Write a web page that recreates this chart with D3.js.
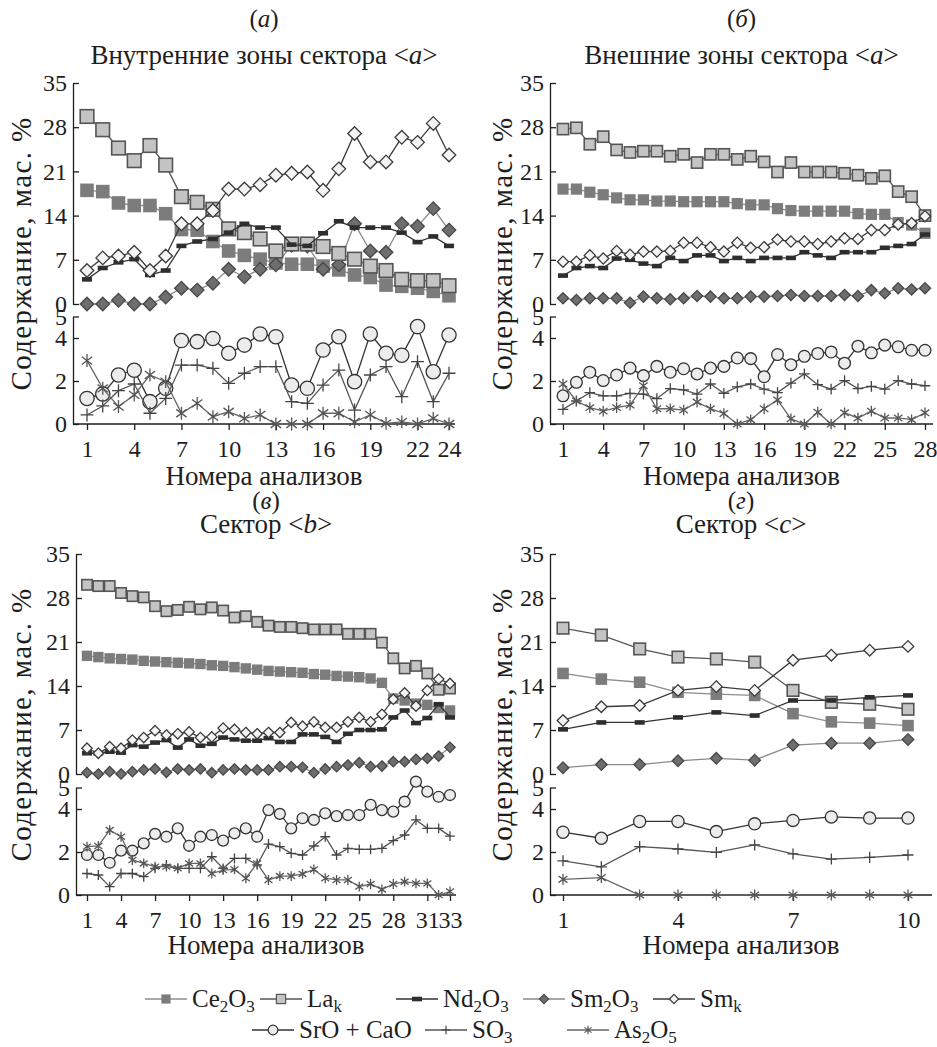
<!DOCTYPE html>
<html>
<head>
<meta charset="utf-8">
<script src="https://cdn.jsdelivr.net/npm/d3@7"></script>
<style>
	body { margin: 0; background: #fff; }
	svg { display: block; }
	text { font-family: "Liberation Serif", "DejaVu Serif", "Times New Roman", serif; }
</style>
</head>
<body>
<div id="chart"></div>
<script>
// axis ticks
var upperTicks = [0, 7, 14, 21, 28, 35]
var lowerTicks = [0, 2, 4, 5]
var ticksA = [1, 4, 7, 10, 13, 16, 19, 22, 24]
var ticksB = [1, 4, 7, 10, 13, 16, 19, 22, 25, 28]
var ticksC = [1, 4, 7, 10, 13, 16, 19, 22, 25, 28, 31, 33]
var ticksD = [1, 4, 7, 10]

// (а) inner zones of sector <a>
var aCe = [18.0, 17.8, 16.0, 15.6, 15.6, 14.3, 11.8, 11.7, 9.9, 8.4, 7.7, 7.1, 6.5, 6.3, 6.3, 6.0, 5.4, 4.6, 4.2, 3.0, 2.8, 2.5, 2.0, 1.3]
var aLa = [29.7, 27.6, 24.7, 22.7, 25.1, 22.0, 17.0, 16.1, 15.0, 11.9, 11.3, 10.3, 8.4, 9.5, 9.5, 9.1, 8.0, 7.1, 6.0, 5.3, 3.9, 3.7, 3.7, 2.9]
var aNd = [3.9, 5.7, 6.6, 7.1, 4.6, 5.3, 9.2, 9.9, 10.3, 11.3, 12.7, 12.1, 12.1, 9.4, 9.2, 11.2, 13.1, 12.1, 12.1, 12.1, 11.3, 9.8, 10.7, 9.2]
var aSm = [0.0, 0.0, 0.6, 0.0, 0.0, 1.1, 2.5, 2.2, 3.3, 5.5, 4.3, 5.5, 6.2, 9.3, 9.2, 5.5, 6.2, 12.7, 8.4, 8.2, 12.7, 12.3, 15.1, 11.7]
var aSmk = [5.3, 7.3, 7.6, 8.2, 5.3, 7.6, 12.7, 12.7, 14.8, 18.2, 18.2, 18.9, 20.4, 20.7, 20.9, 18.0, 21.4, 27.0, 22.5, 22.5, 26.4, 25.6, 28.6, 23.6]
var aSr = [1.19, 1.4, 2.28, 2.5, 1.04, 1.66, 3.88, 3.83, 3.98, 3.29, 3.67, 4.19, 4.06, 1.81, 1.66, 3.44, 4.06, 1.97, 4.19, 3.29, 3.2, 4.53, 2.43, 4.14]
var aSO3 = [0.42, 0.84, 1.55, 1.86, 0.5, 1.19, 2.74, 2.74, 2.59, 1.89, 2.36, 2.67, 2.67, 1.04, 0.96, 1.81, 2.51, 0.65, 2.28, 2.67, 1.27, 2.9, 1.04, 2.36]
var aAs = [2.95, 1.66, 0.81, 1.35, 2.28, 1.97, 0.5, 0.96, 0.34, 0.57, 0.26, 0.42, 0, 0, 0, 0.5, 0.5, 0.1, 0.42, 0.03, 0.1, 0, 0.26, 0]

// (б) outer zones of sector <a>
var bCe = [18.2, 18.2, 17.7, 17.3, 16.8, 16.5, 16.5, 16.3, 16.3, 16.2, 16.2, 16.2, 16.2, 15.9, 15.7, 15.7, 15.1, 14.8, 14.7, 14.7, 14.7, 14.7, 14.3, 14.2, 14.2, 12.9, 12.5, 11.2]
var bLa = [27.7, 27.9, 25.3, 26.5, 24.4, 24.0, 24.2, 24.2, 23.4, 23.7, 22.4, 23.7, 23.7, 22.9, 23.4, 22.5, 20.9, 22.4, 20.9, 20.9, 20.9, 20.7, 20.4, 19.9, 20.3, 17.8, 17.0, 14.0]
var bNd = [4.5, 5.7, 6.0, 5.7, 7.2, 7.0, 6.4, 6.0, 7.3, 6.8, 7.7, 7.7, 6.8, 7.3, 6.8, 7.3, 7.3, 7.3, 8.2, 7.7, 7.3, 8.2, 8.2, 8.2, 8.9, 9.2, 9.5, 11.0]
var bSm = [0.9, 0.64, 0.9, 0.9, 0.9, 0.2, 1.17, 0.9, 0.74, 0.9, 1.27, 1.17, 0.9, 0.9, 1.17, 1.17, 1.27, 1.43, 1.27, 1.27, 1.27, 1.43, 1.27, 2.2, 1.7, 2.5, 2.3, 2.5]
var bSmk = [6.7, 6.7, 7.7, 7.2, 8.4, 7.8, 8.3, 8.3, 8.4, 9.7, 9.7, 9.0, 8.3, 9.7, 8.9, 9.0, 10.2, 9.9, 9.9, 9.5, 9.9, 10.4, 10.3, 11.7, 11.7, 12.6, 12.8, 13.9]
var bSr = [1.31, 1.94, 2.41, 2.02, 2.28, 2.6, 2.25, 2.68, 2.41, 2.57, 2.33, 2.6, 2.68, 3.07, 3.04, 2.2, 3.23, 2.76, 3.15, 3.28, 3.35, 2.83, 3.62, 3.31, 3.67, 3.59, 3.43, 3.43]
var bSO3 = [0.68, 1.07, 1.46, 1.31, 1.31, 1.42, 1.39, 1.18, 1.65, 1.59, 1.39, 1.86, 1.43, 1.73, 1.86, 1.62, 1.46, 1.9, 2.33, 1.83, 1.62, 2.02, 1.65, 1.75, 1.62, 2.02, 1.86, 1.78]
var bAs = [1.86, 1.07, 0.76, 0.6, 0.76, 0.88, 1.78, 0.71, 0.71, 0.65, 1.02, 0.71, 0.49, 0, 0.2, 0.71, 1.12, 0.24, 0, 0.55, 0, 0.52, 0.28, 0.6, 0.28, 0.28, 0.2, 0.52]

// (в) sector <b>
var cCe = [18.8, 18.6, 18.4, 18.3, 18.2, 18.0, 17.9, 17.8, 17.7, 17.6, 17.5, 17.3, 17.2, 17.0, 16.8, 16.6, 16.4, 16.3, 16.2, 16.1, 15.9, 15.8, 15.6, 15.5, 15.4, 15.2, 14.5, 12.0, 11.7, 11.2, 11.0, 10.5, 10.1]
var cLa = [30.1, 29.9, 29.9, 28.8, 28.3, 28.1, 26.7, 25.9, 26.1, 26.6, 26.2, 26.5, 26.0, 24.9, 25.1, 24.2, 23.6, 23.4, 23.4, 23.2, 23.0, 23.0, 23.0, 22.3, 22.3, 22.3, 20.9, 18.4, 16.8, 17.2, 16.0, 13.4, 13.6]
var cNd = [3.3, 3.3, 3.55, 3.4, 4.6, 4.35, 5.0, 5.4, 4.2, 5.5, 4.5, 4.8, 5.8, 5.5, 5.3, 5.3, 5.7, 5.1, 5.1, 6.3, 6.3, 5.9, 5.1, 6.4, 7.0, 7.0, 7.1, 9.0, 10.1, 8.1, 8.9, 11.1, 9.0]
var cSm = [0.2, 0, 0.37, 0, 0.37, 0.64, 0.8, 0.27, 0.8, 0.64, 0.8, 0.2, 0.64, 0.8, 0.64, 0.64, 0.64, 1.17, 1.17, 1.06, 0.2, 0.8, 1.17, 1.43, 1.8, 1.17, 1.27, 1.96, 1.96, 2.33, 2.5, 2.86, 4.24]
var cSmk = [4.1, 3.3, 4.35, 4.1, 5.4, 5.8, 6.9, 6.2, 6.4, 6.7, 5.8, 5.9, 7.3, 7.1, 6.6, 6.4, 6.6, 6.6, 8.2, 7.6, 8.3, 7.4, 7.4, 8.3, 9.0, 8.3, 9.5, 11.9, 12.9, 10.8, 13.3, 15.1, 14.4]
var cSr = [1.86, 1.86, 1.5, 2.06, 2.06, 2.4, 2.84, 2.71, 3.1, 2.29, 2.71, 2.79, 2.53, 2.87, 3.1, 2.71, 3.95, 3.77, 3.1, 3.57, 3.49, 3.8, 3.67, 3.72, 3.72, 4.19, 3.95, 3.88, 4.34, 5.27, 4.81, 4.57, 4.65]
var cSO3 = [1.0, 0.93, 0.39, 1.0, 1.0, 0.85, 1.24, 1.4, 1.24, 1.24, 1.24, 1.78, 1.24, 1.7, 1.7, 1.4, 2.37, 2.25, 1.94, 1.86, 2.28, 2.71, 1.86, 2.17, 2.12, 2.12, 2.17, 2.53, 2.79, 3.49, 3.1, 3.1, 2.74]
var cAs = [2.25, 2.28, 3.02, 2.71, 1.63, 1.47, 1.32, 1.32, 1.24, 1.47, 1.47, 1.0, 1.16, 1.19, 0.78, 1.47, 0.7, 0.88, 0.88, 0.98, 1.19, 0.78, 0.7, 0.7, 0.39, 0.51, 0.26, 0.51, 0.62, 0.54, 0.54, 0, 0.16]

// (г) sector <c>
var dCe = [16.0, 15.1, 14.6, 13.0, 12.7, 12.5, 9.6, 8.3, 8.1, 7.7]
var dLa = [23.2, 22.1, 19.9, 18.6, 18.3, 17.8, 13.3, 11.4, 11.1, 10.3]
var dNd = [7.1, 8.2, 8.2, 9.0, 9.8, 9.3, 11.7, 11.7, 12.2, 12.5]
var dSm = [1.0, 1.5, 1.5, 2.1, 2.5, 2.2, 4.6, 4.9, 4.9, 5.5]
var dSmk = [8.5, 10.7, 10.9, 13.3, 13.9, 13.3, 18.1, 18.9, 19.7, 20.3]
var dSr = [2.92, 2.64, 3.42, 3.42, 2.95, 3.31, 3.47, 3.63, 3.58, 3.58]
var dSO3 = [1.59, 1.31, 2.25, 2.14, 1.98, 2.33, 1.91, 1.67, 1.75, 1.86]
var dAs = [0.73, 0.81, 0, 0, 0, 0, 0, 0, 0, 0]

const width = 937
const height = 1047
const ink = '#1e1e1e'
const serif = '"Liberation Serif", "DejaVu Serif", "Times New Roman", serif'

const svg = d3.select('#chart').append('svg')
	.attr('width', width)
	.attr('height', height)
	.attr('font-family', serif)

// series styles, drawn in this order
var series = [
	{ key: 'Sr', block: 'low', shape: 'circle', fill: '#ececec', stroke: '#333', line: '#333' },
	{ key: 'SO3', block: 'low', shape: 'plus', fill: 'none', stroke: '#444', line: '#555' },
	{ key: 'As', block: 'low', shape: 'star', fill: 'none', stroke: '#555', line: '#666' },
	{ key: 'Ce', block: 'up', shape: 'square', fill: '#7c7c7c', stroke: 'none', line: '#8c8c8c' },
	{ key: 'Sm', block: 'up', shape: 'diamond', fill: '#6e6e6e', stroke: '#474747', line: '#8a8a8a' },
	{ key: 'La', block: 'up', shape: 'square', fill: '#c4c4c4', stroke: '#555', line: '#555' },
	{ key: 'Nd', block: 'up', shape: 'bar', fill: '#2e2e2e', stroke: 'none', line: '#333' },
	{ key: 'Smk', block: 'up', shape: 'diamond', fill: '#f4f4f4', stroke: '#3a3a3a', line: '#3a3a3a' },
]
var styleOf = {}
series.forEach(s => styleOf[s.key] = s)

var panels = [
	{
		letter: 'а', title: 'Внутренние зоны сектора ', tag: 'a', ticks: ticksA,
		data: { Ce: aCe, La: aLa, Nd: aNd, Sm: aSm, Smk: aSmk, Sr: aSr, SO3: aSO3, As: aAs },
		left: 73, x0: 87, x1: 449, right: 455,
		top: 83, upBottom: 304, lowTop: 316.5, bottom: 424,
		letterY: 27, titleY: 64, xTitleY: 485, yTitleX: 21, m: 6.8
	},
	{
		letter: 'б', title: 'Внешние зоны сектора ', tag: 'a', ticks: ticksB,
		data: { Ce: bCe, La: bLa, Nd: bNd, Sm: bSm, Smk: bSmk, Sr: bSr, SO3: bSO3, As: bAs },
		left: 550, x0: 563, x1: 925, right: 933,
		top: 83, upBottom: 304, lowTop: 316.5, bottom: 424,
		letterY: 27, titleY: 64, xTitleY: 485, yTitleX: 502, m: 5.6
	},
	{
		letter: 'в', title: 'Сектор ', tag: 'b', ticks: ticksC,
		data: { Ce: cCe, La: cLa, Nd: cNd, Sm: cSm, Smk: cSmk, Sr: cSr, SO3: cSO3, As: cAs },
		left: 76, x0: 87, x1: 450, right: 456,
		top: 554, upBottom: 774, lowTop: 787.5, bottom: 895,
		letterY: 509, titleY: 533, xTitleY: 954, yTitleX: 21, m: 5.2
	},
	{
		letter: 'г', title: 'Сектор ', tag: 'c', ticks: ticksD,
		data: { Ce: dCe, La: dLa, Nd: dNd, Sm: dSm, Smk: dSmk, Sr: dSr, SO3: dSO3, As: dAs },
		left: 550, x0: 563, x1: 908, right: 932,
		top: 554, upBottom: 774, lowTop: 787.5, bottom: 895,
		letterY: 509, titleY: 533, xTitleY: 954, yTitleX: 502, m: 5.8
	},
]

// draw one marker shape into a group centred at 0,0
function addMarker(sel, shape, m) {
	if (shape === 'square') {
		sel.append('rect').attr('x', -m).attr('y', -m).attr('width', 2 * m).attr('height', 2 * m)
	} else if (shape === 'bar') {
		sel.append('rect').attr('x', -5).attr('y', -2.3).attr('width', 10).attr('height', 4.6)
	} else if (shape === 'diamond') {
		sel.append('path').attr('d', `M0,${-m}L${m},0L0,${m}L${-m},0Z`)
	} else if (shape === 'circle') {
		sel.append('circle').attr('r', m * 1.05)
	} else if (shape === 'plus') {
		let a = m * 0.95
		sel.append('path').attr('d', `M${-a},0H${a}M0,${-a}V${a}`)
	} else if (shape === 'star') {
		let a = m * 0.95, b = a * 0.8, c = a * 0.6
		sel.append('path').attr('d', `M0,${-a}V${a}M${-b},${-c}L${b},${c}M${-b},${c}L${b},${-c}`)
	}
}

function styleAxis(ax) {
	ax.attr('font-family', serif).attr('font-size', 24)
	ax.selectAll('path, line').attr('stroke', ink).attr('stroke-width', 1.3)
	ax.selectAll('text').attr('fill', ink)
}

function drawPanel(p) {
	const g = svg.append('g')
	const n = p.data.Ce.length
	const cx = (p.left + p.right) / 2

	const x = d3.scaleLinear().domain([1, n]).range([p.x0, p.x1])
	const yUp = d3.scaleLinear().domain([0, 35]).range([p.upBottom, p.top])
	const yLow = d3.scaleLinear().domain([0, 5]).range([p.bottom, p.lowTop])

	// panel letter and title
	let lt = g.append('text')
		.attr('x', cx).attr('y', p.letterY)
		.attr('text-anchor', 'middle')
		.attr('font-size', 25).attr('fill', ink)
	lt.append('tspan').text('(')
	lt.append('tspan').attr('font-style', 'italic').text(p.letter)
	lt.append('tspan').text(')')

	let tt = g.append('text')
		.attr('x', cx).attr('y', p.titleY)
		.attr('text-anchor', 'middle')
		.attr('font-size', 27).attr('fill', ink)
	tt.append('tspan').text(p.title + '<')
	tt.append('tspan').attr('font-style', 'italic').text(p.tag)
	tt.append('tspan').text('>')

	// y axes, ticks point inwards
	let ayUp = g.append('g')
		.attr('transform', `translate(${p.left},0)`)
		.call(d3.axisLeft(yUp).tickValues(upperTicks).tickFormat(d3.format('d'))
			.tickSizeInner(-6).tickSizeOuter(0).tickPadding(6))
	styleAxis(ayUp)

	let ayLow = g.append('g')
		.attr('transform', `translate(${p.left},0)`)
		.call(d3.axisLeft(yLow).tickValues(lowerTicks).tickFormat(d3.format('d'))
			.tickSizeInner(-6).tickSizeOuter(0).tickPadding(6))
	styleAxis(ayLow)

	// x axis under the lower block
	let ax = g.append('g')
		.attr('transform', `translate(0,${p.bottom})`)
		.call(d3.axisBottom(x).tickValues(p.ticks).tickFormat(d3.format('d'))
			.tickSizeInner(6).tickSizeOuter(0).tickPadding(10))
	ax.select('.domain').remove()
	ax.append('line')
		.attr('x1', p.left).attr('x2', p.right)
		.attr('y1', 0).attr('y2', 0)
	styleAxis(ax)

	// axis titles
	g.append('text')
		.attr('x', cx).attr('y', p.xTitleY)
		.attr('text-anchor', 'middle')
		.attr('font-size', 27).attr('fill', ink)
		.text('Номера анализов')

	g.append('text')
		.attr('transform', `translate(${p.yTitleX},${(p.top + p.bottom) / 2}) rotate(-90)`)
		.attr('text-anchor', 'middle')
		.attr('dy', '0.35em')
		.attr('font-size', 29).attr('fill', ink)
		.attr('letter-spacing', 1.4)
		.text('Содержание, мас. %')

	// series lines and markers
	series.forEach(s => {
		const vals = p.data[s.key]
		const y = s.block === 'up' ? yUp : yLow
		const sg = g.append('g')

		sg.append('path')
			.datum(vals)
			.attr('fill', 'none')
			.attr('stroke', s.line)
			.attr('stroke-width', 1.3)
			.attr('d', d3.line().x((d, i) => x(i + 1)).y(d => y(d)))

		sg.selectAll('g.mk')
			.data(vals)
			.enter()
			.append('g')
			.attr('class', 'mk')
			.attr('transform', (d, i) => `translate(${x(i + 1)},${y(d)})`)
			.attr('fill', s.fill)
			.attr('stroke', s.stroke)
			.attr('stroke-width', s.key === 'La' ? 1.6 : 1.3)
			.each(function() { addMarker(d3.select(this), s.shape, p.m) })
	})
}

panels.forEach(drawPanel)

// legend
var legendItems = [
	{ key: 'Ce', label: [['Ce', ''], ['2', 'sub'], ['O', ''], ['3', 'sub']], x: 145, row: 0 },
	{ key: 'La', label: [['La', ''], ['k', 'sub']], x: 260, row: 0 },
	{ key: 'Nd', label: [['Nd', ''], ['2', 'sub'], ['O', ''], ['3', 'sub']], x: 396, row: 0 },
	{ key: 'Sm', label: [['Sm', ''], ['2', 'sub'], ['O', ''], ['3', 'sub']], x: 523, row: 0 },
	{ key: 'Smk', label: [['Sm', ''], ['k', 'sub']], x: 653, row: 0 },
	{ key: 'Sr', label: [['SrO + CaO', '']], x: 252, row: 1 },
	{ key: 'SO3', label: [['SO', ''], ['3', 'sub']], x: 425, row: 1 },
	{ key: 'As', label: [['As', ''], ['2', 'sub'], ['O', ''], ['5', 'sub']], x: 567, row: 1 },
]
var legendRows = [999, 1030]

var legend = svg.append('g').attr('class', 'legend')
legendItems.forEach(it => {
	const s = styleOf[it.key]
	const ly = legendRows[it.row]
	const lg = legend.append('g').attr('transform', `translate(${it.x},${ly})`)
	lg.append('line')
		.attr('x1', 0).attr('x2', 42)
		.attr('stroke', s.line).attr('stroke-width', 1.3)
	let mk = lg.append('g')
		.attr('transform', 'translate(21,0)')
		.attr('fill', s.fill)
		.attr('stroke', s.stroke)
		.attr('stroke-width', 1.2)
	addMarker(mk, s.shape, 4.6)

	let t = lg.append('text')
		.attr('x', 47).attr('y', 8)
		.attr('font-size', 25).attr('fill', ink)
	it.label.forEach((part, i) => {
		let ts = t.append('tspan').text(part[0])
		if (part[1] === 'sub') ts.attr('font-size', 17).attr('dy', 5)
		else if (i > 0) ts.attr('dy', -5)
	})
})
</script>
</body>
</html>
